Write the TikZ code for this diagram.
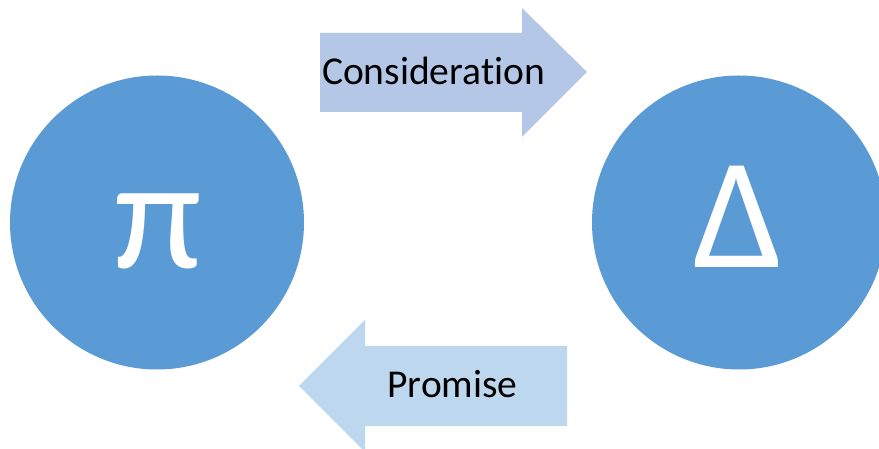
\documentclass[tikz,border=0pt]{standalone}
\usepackage{fontspec}
\setmainfont[Ligatures=NoCommon]{Carlito}
\definecolor{circleblue}{HTML}{5B9BD5}
\definecolor{considblue}{HTML}{B4C7E7}
\definecolor{promiseblue}{HTML}{BDD7EE}
\begin{document}
\begin{tikzpicture}[x=1pt,y=1pt,
    party/.style={circle,fill=circleblue,minimum size=294pt,inner sep=0pt},
    symb/.style={text=white,anchor=base,font=\fontsize{158}{160}\selectfont},
    arrowtext/.style={text=black,anchor=base,font=\fontsize{39.5}{47}\selectfont}]
        \useasboundingbox (0,0) rectangle (879,449);

        % Draw parties
        \node[party] (P) at (157,226.5) {};
        \node[party] (D) at (739,226.5) {};
        \node[symb] (pisym) at (158,180) {π};
        \node[symb] (deltasym) at (738.5,181) {Δ};

        % Draw arrows
        \coordinate (C1) at (320,416);
        \coordinate (C2) at (522,416);
        \coordinate (C3) at (522,441);
        \coordinate (C4) at (587,377);
        \coordinate (C5) at (522,312);
        \coordinate (C6) at (522,337);
        \coordinate (C7) at (320,337);
        \fill[considblue] (C1) -- (C2) -- (C3) -- (C4) -- (C5) -- (C6) -- (C7) -- cycle;
        \node[arrowtext] (consid) at (433.5,364) {Consideration};

        \coordinate (R1) at (567,103);
        \coordinate (R2) at (365,103);
        \coordinate (R3) at (365,129);
        \coordinate (R4) at (299,63);
        \coordinate (R5) at (365,-3);
        \coordinate (R6) at (365,23);
        \coordinate (R7) at (567,23);
        \fill[promiseblue] (R1) -- (R2) -- (R3) -- (R4) -- (R5) -- (R6) -- (R7) -- cycle;
        \node[arrowtext] (promise) at (452.5,51) {Promise};

    \end{tikzpicture}
\end{document}
